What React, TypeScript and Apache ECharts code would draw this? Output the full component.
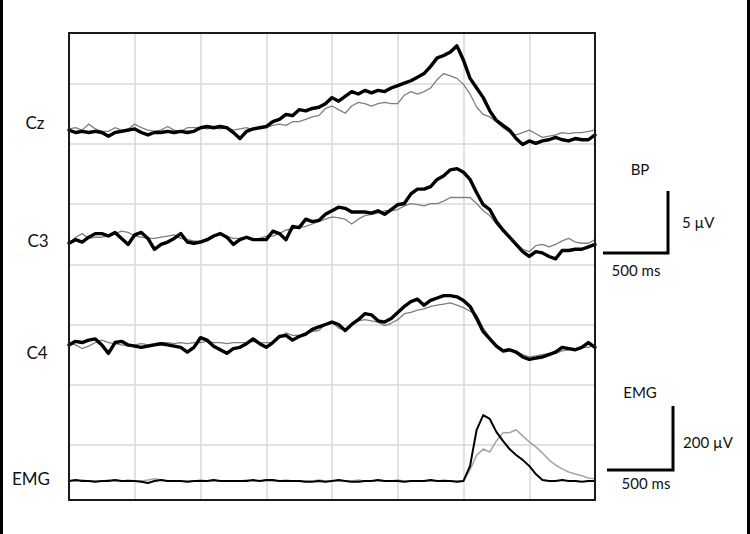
import React, { useEffect, useRef } from "react";
import * as echarts from "echarts";

// Sample times (ms relative to movement onset), 50 ms steps from -3000 to 1000
const timeMs: number[] = Array.from({ length: 81 }, (_, i) => -3000 + i * 50);

// Bereitschaftspotential traces (µV, relative to early baseline)
const czBlack = [
  0.0, -0.2, -0.1, -0.2, -0.1, -0.2, -0.5, -0.2, -0.1, 0.0,
  0.1, -0.2, -0.4, -0.2, -0.2, -0.1, -0.2, -0.1, -0.2, -0.1,
  0.2, 0.3, 0.2, 0.3, 0.2, -0.2, -0.7, -0.1, 0.1, 0.2,
  0.3, 0.7, 0.9, 1.3, 1.2, 1.7, 1.6, 1.8, 1.9, 2.2,
  2.7, 2.4, 2.8, 3.2, 3.0, 3.3, 3.1, 3.3, 3.2, 3.5,
  3.7, 3.9, 4.1, 4.4, 4.7, 5.3, 6.0, 6.2, 6.5, 7.0,
  5.8, 4.3, 3.5, 2.7, 1.6, 0.8, 0.4, 0.0, -0.7, -1.2,
  -0.9, -1.1, -0.9, -0.8, -0.6, -0.8, -0.9, -0.7, -0.8, -0.8,
  -0.4,
];
const czGray = [
  0.1, 0.2, 0.0, 0.5, 0.1, -0.1, -0.1, 0.2, 0.0, 0.1,
  0.5, 0.2, 0.0, -0.1, 0.0, 0.3, 0.0, -0.1, 0.2, 0.2,
  0.2, 0.1, 0.2, 0.1, 0.2, 0.0, 0.1, 0.2, 0.0, 0.2,
  0.2, 0.4, 0.5, 0.4, 0.7, 0.7, 0.9, 1.1, 1.2, 1.8,
  2.0, 1.7, 1.4, 2.0, 2.3, 2.2, 2.0, 2.2, 2.3, 2.2,
  2.2, 2.9, 3.2, 3.0, 3.2, 3.5, 4.2, 4.7, 4.5, 4.3,
  3.8, 3.0, 1.9, 1.3, 1.1, 0.7, 0.2, -0.2, -0.4, -0.2,
  0.0, -0.3, -0.6, -0.5, -0.4, -0.2, -0.3, -0.2, -0.2, -0.1,
  0.0,
];
const c3Black = [
  -0.1, 0.2, 0.0, 0.4, 0.7, 0.7, 0.5, 0.8, 0.3, -0.2,
  0.6, 0.8, 0.3, -0.6, -0.2, 0.0, 0.3, 0.7, 0.0, -0.1,
  0.0, 0.2, 0.5, 0.7, 0.4, -0.2, 0.2, 0.4, 0.2, 0.2,
  0.2, 0.9, 0.7, 0.2, 1.3, 1.2, 1.9, 1.7, 1.8, 2.3,
  2.6, 2.9, 2.8, 2.5, 2.5, 2.5, 2.4, 2.6, 2.3, 2.7,
  3.1, 3.2, 4.0, 4.4, 4.4, 4.6, 5.2, 5.5, 6.0, 6.1,
  5.8, 5.2, 4.1, 3.1, 2.7, 1.7, 1.0, 0.4, -0.2, -0.8,
  -1.2, -0.8, -0.9, -1.2, -1.4, -0.7, -0.7, -0.6, -0.6, -0.4,
  -0.2,
];
const c3Gray = [
  -0.1, 0.4, 0.7, 0.3, 0.4, 0.4, 0.5, 0.7, 0.9, 0.8,
  0.5, 0.4, 0.3, 0.3, 0.4, 0.5, 0.6, 0.3, 0.2, 0.1,
  0.0, 0.1, 0.4, 0.8, 0.5, 0.3, 0.3, 0.3, 0.2, 0.3,
  0.5, 0.5, 0.7, 1.0, 1.1, 1.2, 1.3, 1.5, 1.7, 1.9,
  2.1, 2.0, 1.9, 1.5, 1.9, 2.2, 2.3, 2.4, 2.6, 2.6,
  2.7, 3.0, 3.2, 3.1, 3.0, 3.2, 3.2, 3.4, 3.7, 3.7,
  3.7, 3.7, 3.2, 2.6, 2.2, 1.5, 0.9, 0.5, -0.1, -0.6,
  -0.8, -0.3, -0.2, -0.4, -0.2, 0.1, 0.3, 0.0, -0.1, -0.1,
  0.2,
];
const c4Black = [
  0.0, 0.3, 0.2, 0.4, 0.5, 0.0, -0.7, 0.2, 0.3, 0.0,
  -0.1, -0.2, -0.1, 0.0, 0.1, 0.0, -0.1, -0.2, -0.6, -0.2,
  0.6, 0.4, -0.1, -0.4, -0.7, -0.3, -0.2, 0.1, 0.5, 0.1,
  -0.2, 0.2, 0.7, 0.8, 0.4, 0.7, 0.9, 1.3, 1.5, 1.7,
  1.9, 1.7, 1.2, 1.7, 2.1, 2.6, 2.5, 2.0, 1.9, 2.2,
  2.7, 3.2, 3.6, 3.8, 3.3, 3.7, 3.9, 4.1, 4.1, 4.0,
  3.7, 3.2, 2.2, 1.1, 0.5, -0.1, -0.5, -0.4, -0.6, -1.0,
  -1.2, -1.1, -1.0, -0.8, -0.6, -0.2, -0.3, -0.4, -0.2, 0.2,
  -0.2,
];
const c4Gray = [
  0.2, 0.0, -0.3, -0.1, 0.2, 0.4, 0.2, 0.1, 0.0, -0.1,
  0.0, 0.1, 0.0, 0.1, 0.2, 0.2, 0.1, 0.2, 0.1, 0.2,
  0.2, 0.3, 0.2, 0.2, 0.1, 0.2, 0.2, 0.2, 0.3, 0.2,
  0.2, 0.2, 0.6, 1.0, 0.8, 0.8, 1.0, 1.1, 1.2, 1.7,
  1.9, 1.4, 1.2, 1.7, 2.0, 2.1, 2.0, 1.9, 1.6, 1.8,
  2.1, 2.6, 2.7, 2.9, 3.0, 3.2, 3.3, 3.4, 3.5, 3.3,
  3.1, 2.8, 2.5, 1.4, 0.6, 0.0, -0.4, -0.4, -0.5, -0.8,
  -1.0, -0.9, -0.8, -0.7, -0.7, -0.5, -0.4, -0.3, -0.2, -0.2,
  0.0,
];

// Rectified EMG (µV)
const emgBlack = [
  0, 3, 0, 0, -3, 0, 0, 3, 0, 0,
  0, -3, -7, 0, 3, 0, 0, 0, -3, 0,
  0, 0, 3, 0, 0, 0, 0, 0, 3, 0,
  3, 3, 0, 0, 0, 0, -3, -3, 0, -3,
  0, 3, 0, -3, -3, 0, 0, 3, 0, 0,
  0, -3, 0, 0, 0, 3, 0, 0, 0, -3,
  0, 50, 170, 219, 206, 163, 133, 106, 86, 70,
  50, 23, 3, 0, 0, 3, 0, 0, -3, 0,
  0,
];
const emgGray = [
  0, 0, 3, 0, 0, 0, 3, 0, 0, 3,
  0, 0, 3, 7, 3, 0, 0, 0, 0, 0,
  3, 0, 0, 0, 0, 0, 0, 3, 0, 0,
  0, 0, 0, 3, 0, 0, 0, 0, 3, 0,
  0, 0, 0, 0, 3, 0, 0, 0, 0, 0,
  3, 0, 0, 0, 0, 0, 0, 3, 0, 0,
  0, 37, 86, 106, 96, 133, 160, 160, 170, 150,
  130, 113, 93, 70, 53, 40, 30, 23, 17, 10,
  7,
];

const channelLabels = ["Cz", "C3", "C4", "EMG"];
const bpScaleLabels = ["BP", "5 µV", "500 ms"];
const emgScaleLabels = ["EMG", "200 µV", "500 ms"];

// vertical offsets of each channel on the shared µV axis (5 µV per grid division)
const OFFSET_CZ = 31.15;
const OFFSET_C3 = 21.85;
const OFFSET_C4 = 13.3;
const OFFSET_EMG = 2.0;
const EMG_TO_BP = 5 / 200; // 200 µV EMG drawn at the height of 5 µV BP

const FONT = "Lato, 'Open Sans', sans-serif";

function pairs(vals: number[], offset: number, scale = 1) {
  return vals.map((v, i) => [timeMs[i], offset + v * scale]);
}

function lineSeries(name: string, data: number[][], color: string, width: number, z: number) {
  return {
    name,
    type: "line",
    data,
    showSymbol: false,
    symbol: "none",
    smooth: false,
    lineStyle: { color, width, join: "round", cap: "round" },
    z,
    silent: true,
  };
}

function text(x: number, y: number, t: string, size: number, align = "center") {
  return {
    type: "text",
    x,
    y,
    z: 200,
    style: {
      text: t,
      font: `${size}px ${FONT}`,
      fill: "#111",
      align,
      verticalAlign: "middle",
      textAlign: align,
      textVerticalAlign: "middle",
    },
  };
}

export default function App() {
  const ref = useRef<HTMLDivElement>(null);
  useEffect(() => {
    if (!ref.current) return;
    const chart = echarts.init(ref.current, undefined, { renderer: "svg" });
    const option: any = {
      animation: false,
      backgroundColor: "#ffffff",
      grid: { left: 69, top: 33, width: 526, height: 472, show: false },
      xAxis: {
        type: "value",
        min: -3000,
        max: 1000,
        interval: 500,
        axisLine: { show: false },
        axisTick: { show: false },
        axisLabel: { show: false },
        splitLine: { show: true, lineStyle: { color: "#d9d9d9", width: 1.5 } },
      },
      yAxis: {
        type: "value",
        min: 0,
        max: 39.22,
        interval: 5,
        axisLine: { show: false },
        axisTick: { show: false },
        axisLabel: { show: false },
        splitLine: {
          show: true,
          showMinLine: false,
          showMaxLine: false,
          lineStyle: { color: "#d9d9d9", width: 1.5 },
        },
      },
      series: [
        lineSeries("Cz gray", pairs(czGray, OFFSET_CZ), "#7f7f7f", 1.3, 2),
        lineSeries("Cz black", pairs(czBlack, OFFSET_CZ), "#000000", 3.4, 3),
        lineSeries("C3 gray", pairs(c3Gray, OFFSET_C3), "#7f7f7f", 1.3, 2),
        lineSeries("C3 black", pairs(c3Black, OFFSET_C3), "#000000", 3.4, 3),
        lineSeries("C4 gray", pairs(c4Gray, OFFSET_C4), "#7f7f7f", 1.3, 2),
        lineSeries("C4 black", pairs(c4Black, OFFSET_C4), "#000000", 3.4, 3),
        lineSeries("EMG gray", pairs(emgGray, OFFSET_EMG, EMG_TO_BP), "#a6a6a6", 1.6, 2),
        lineSeries("EMG black", pairs(emgBlack, OFFSET_EMG, EMG_TO_BP), "#000000", 2, 3),
      ],
      graphic: [
        // mask the grid lines below the plot frame
        {
          type: "rect",
          z: 140,
          silent: true,
          shape: { x: 66, y: 501, width: 532, height: 8 },
          style: { fill: "#ffffff", stroke: "none" },
        },
        // plot frame
        {
          type: "rect",
          z: 150,
          silent: true,
          shape: { x: 69, y: 33, width: 526, height: 467 },
          style: { fill: "none", stroke: "#1a1a1a", lineWidth: 2 },
        },
        // outer page frame (left and right edges)
        { type: "line", z: 150, shape: { x1: 1.5, y1: 0, x2: 1.5, y2: 534 }, style: { stroke: "#000", lineWidth: 3 } },
        { type: "line", z: 150, shape: { x1: 748.5, y1: 0, x2: 748.5, y2: 534 }, style: { stroke: "#000", lineWidth: 3 } },
        // channel labels
        text(35, 122, channelLabels[0], 17),
        text(38, 240, channelLabels[1], 17),
        text(37, 352, channelLabels[2], 17),
        text(31, 478, channelLabels[3], 17),
        // BP scale bar
        {
          type: "polyline",
          z: 150,
          shape: { points: [[603, 253], [668, 253], [668, 191]] },
          style: { stroke: "#000", lineWidth: 3, fill: "none" },
        },
        text(640, 169, bpScaleLabels[0], 15),
        text(682, 222, bpScaleLabels[1], 15, "left"),
        text(636, 270, bpScaleLabels[2], 15),
        // EMG scale bar
        {
          type: "polyline",
          z: 150,
          shape: { points: [[607, 470], [673, 470], [673, 406]] },
          style: { stroke: "#000", lineWidth: 3, fill: "none" },
        },
        text(640, 392, emgScaleLabels[0], 15),
        text(683, 442, emgScaleLabels[1], 15, "left"),
        text(646, 483, emgScaleLabels[2], 15),
      ],
    };
    chart.setOption(option);
    return () => chart.dispose();
  }, []);
  return (
    <div
      ref={ref}
      style={{ position: "fixed", left: 0, top: 0, width: 750, height: 534, background: "#fff" }}
    />
  );
}
